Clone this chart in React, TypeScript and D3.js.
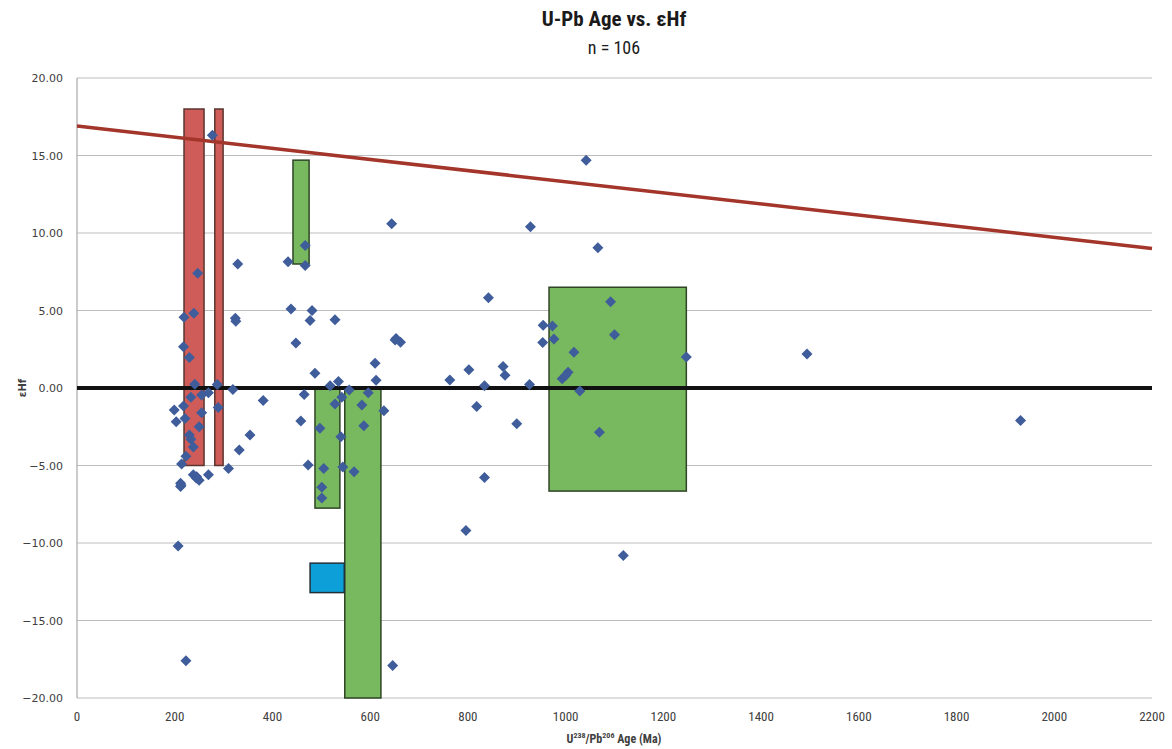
import React from 'react';
import * as d3 from 'd3';

// U-Pb ages (Ma) and epsilon Hf of the 106 zircons
const ages = [
    277, 247, 329, 432, 467, 467, 219, 239, 324, 325, 438, 481, 477, 528, 218, 230, 448, 487,
    241, 287, 535, 518, 319, 269, 255, 233, 381, 218, 199, 289, 255, 203, 221, 250, 354, 230,
    233, 238, 332, 223, 214, 310, 238, 269, 244, 250, 212, 212, 207, 223,
    653, 662, 610, 612, 557, 465, 542, 528, 596, 583, 628, 458, 497, 587, 540, 473, 505, 544,
    567, 501, 501, 646, 644,
    928, 1042, 1066, 842, 1092, 954, 973, 953, 976, 1100, 1017, 1247, 763, 802, 872, 876, 834,
    926, 993, 1005, 1029, 818, 900, 1069, 834, 796, 1118, 1494, 1931,
    213, 245, 651, 1000
];
const epsHf = [
    16.3, 7.4, 8.0, 8.15, 9.2, 7.9, 4.56, 4.83, 4.5, 4.3, 5.1, 5.0, 4.35, 4.4, 2.66, 1.97, 2.9, 0.95,
    0.25, 0.22, 0.42, 0.14, -0.1, -0.3, -0.45, -0.6, -0.8, -1.16, -1.42, -1.25, -1.6, -2.17, -1.96, -2.5, -3.03, -3.03,
    -3.3, -3.8, -4.0, -4.4, -4.9, -5.2, -5.6, -5.6, -5.8, -5.95, -6.15, -6.35, -10.2, -17.6,
    3.2, 2.95, 1.6, 0.5, -0.13, -0.42, -0.6, -1.03, -0.3, -1.1, -1.46, -2.13, -2.6, -2.43, -3.14, -4.97, -5.2, -5.1,
    -5.4, -6.4, -7.1, -17.9, 10.6,
    10.4, 14.7, 9.05, 5.83, 5.57, 4.05, 4.0, 2.93, 3.16, 3.44, 2.3, 2.0, 0.52, 1.18, 1.38, 0.82, 0.14,
    0.22, 0.6, 1.02, -0.2, -1.2, -2.3, -2.86, -5.77, -9.2, -10.8, 2.2, -2.1,
    -6.28, -5.72, 3.1, 0.8
];

// reference fields: age range and eHf range
const boxAgeMin = [219, 282, 442, 487, 548, 477, 966];
const boxAgeMax = [260, 299, 475, 538, 622, 547, 1247];
const boxEpsMin = [-5, -5, 8, -7.75, -20, -13.2, -6.65];
const boxEpsMax = [18, 18, 14.7, 0, 0, -11.3, 6.5];
const boxKind = ['red', 'red', 'green', 'green', 'green', 'blue', 'green'];

// depleted mantle line
const dmAge = [0, 2200];
const dmEps = [16.9, 9.0];

const xTicks = [0, 200, 400, 600, 800, 1000, 1200, 1400, 1600, 1800, 2000, 2200];
const yTicks = [20, 15, 10, 5, 0, -5, -10, -15, -20];

const kindFill: Record<string, string> = { red: '#d05c5a', green: '#78b85e', blue: '#0d9fd8' };
const kindStroke: Record<string, string> = { red: '#5a3530', green: '#2f4526', blue: '#22303a' };

const W = 1172;
const H = 749;
const margin = { left: 77, right: 20, top: 78, bottom: 51 };

const App: React.FC = () => {
    const x = d3.scaleLinear().domain([0, 2200]).range([margin.left, W - margin.right]);
    const y = d3.scaleLinear().domain([-20, 20]).range([H - margin.bottom, margin.top]);

    const dmLine = d3.line<number>()
        .x(d => x(dmAge[d]))
        .y(d => y(dmEps[d]));

    const narrow = '"Liberation Sans Narrow", "Arial Narrow", "Roboto Condensed", "Liberation Sans", sans-serif';
    const r = 5.5;

    return (
        <svg width={W} height={H} style={{ position: 'absolute', left: 0, top: 0, background: '#fff' }}>
            {/* title */}
            <text x={614} y={26} textAnchor="middle" fontFamily={narrow} fontWeight="bold" fontSize={21} fill="#1a1a1a">
                U-Pb Age vs. εHf
            </text>
            <text x={614} y={54} textAnchor="middle" fontFamily={narrow} fontSize={18} fill="#1a1a1a">
                n = 106
            </text>

            {/* gridlines */}
            {yTicks.map(t => (
                <line key={'g' + t} x1={x(0)} x2={x(2200)} y1={y(t)} y2={y(t)} stroke="#bdbdbd" strokeWidth={1.2} />
            ))}
            <line x1={x(0)} x2={x(0)} y1={y(20)} y2={y(-20)} stroke="#a8a8a8" strokeWidth={1.2} />

            {/* y tick labels */}
            {yTicks.map(t => (
                <text key={'yt' + t} x={63} y={y(t) + 4} textAnchor="end" fontFamily='"DejaVu Sans", Verdana, sans-serif'
                    fontSize={11} fill="#404040">
                    {d3.format('.2f')(t)}
                </text>
            ))}
            {/* x tick labels */}
            {xTicks.map(t => (
                <text key={'xt' + t} x={x(t)} y={H - margin.bottom + 23} textAnchor="middle" fontFamily={narrow}
                    fontSize={13} fill="#404040">
                    {t}
                </text>
            ))}

            {/* axis titles */}
            <text x={614} y={743} textAnchor="middle" fontFamily={narrow} fontWeight="bold" fontSize={12} fill="#404040">
                U<tspan fontSize={8} dy={-5}>238</tspan><tspan dy={5}>/Pb</tspan><tspan fontSize={8} dy={-5}>206</tspan><tspan dy={5}> Age (Ma)</tspan>
            </text>
            <text transform={`translate(26,${y(0)}) rotate(-90)`} textAnchor="middle" fontFamily='"DejaVu Sans", sans-serif'
                fontWeight="bold" fontSize={10} fill="#404040">
                εHf
            </text>

            {/* reference fields */}
            {boxKind.map((k, i) => (
                <rect key={'b' + i}
                    x={x(boxAgeMin[i])} width={x(boxAgeMax[i]) - x(boxAgeMin[i])}
                    y={y(boxEpsMax[i])} height={y(boxEpsMin[i]) - y(boxEpsMax[i])}
                    fill={kindFill[k]} stroke={kindStroke[k]} strokeWidth={1.5} />
            ))}

            {/* depleted mantle and CHUR */}
            <path d={dmLine([0, 1]) || ''} fill="none" stroke="#a3352a" strokeWidth={3.5} />
            <line x1={x(0)} x2={x(2200)} y1={y(0)} y2={y(0)} stroke="#111" strokeWidth={4} />

            {/* zircon analyses */}
            {ages.map((a, i) => {
                const cx = x(a);
                const cy = y(epsHf[i]);
                return (
                    <path key={'p' + i} d={`M${cx},${cy - r}L${cx + r},${cy}L${cx},${cy + r}L${cx - r},${cy}Z`}
                        fill="#3f5d9b" />
                );
            })}
        </svg>
    );
};

export default App;
